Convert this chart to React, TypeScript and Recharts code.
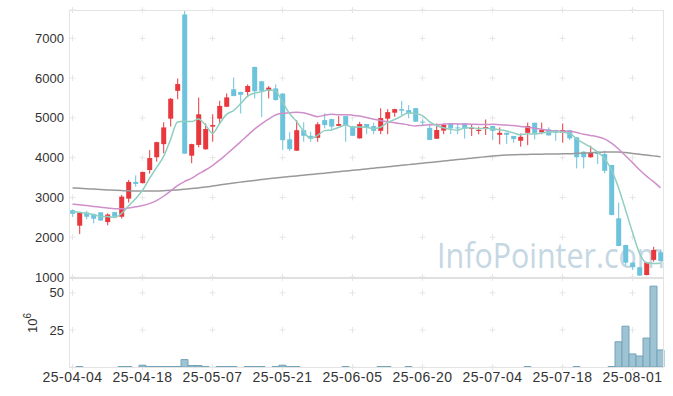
import React from 'react';
import { ComposedChart, BarChart, Bar, Line, XAxis, YAxis, CartesianGrid } from 'recharts';

// trading days (KRX), yy-mm-dd
const dates = [
    '25-04-04', '25-04-07', '25-04-08', '25-04-09', '25-04-10', '25-04-11', '25-04-14', '25-04-15', '25-04-16', '25-04-17',
    '25-04-18', '25-04-21', '25-04-22', '25-04-23', '25-04-24', '25-04-25', '25-04-28', '25-04-29', '25-04-30', '25-05-02',
    '25-05-07', '25-05-08', '25-05-09', '25-05-12', '25-05-13', '25-05-14', '25-05-15', '25-05-16', '25-05-19', '25-05-20',
    '25-05-21', '25-05-22', '25-05-23', '25-05-26', '25-05-27', '25-05-28', '25-05-29', '25-05-30', '25-06-02', '25-06-04',
    '25-06-05', '25-06-09', '25-06-10', '25-06-11', '25-06-12', '25-06-13', '25-06-16', '25-06-17', '25-06-18', '25-06-19',
    '25-06-20', '25-06-23', '25-06-24', '25-06-25', '25-06-26', '25-06-27', '25-06-30', '25-07-01', '25-07-02', '25-07-03',
    '25-07-04', '25-07-07', '25-07-08', '25-07-09', '25-07-10', '25-07-11', '25-07-14', '25-07-15', '25-07-16', '25-07-17',
    '25-07-18', '25-07-21', '25-07-22', '25-07-23', '25-07-24', '25-07-25', '25-07-28', '25-07-29', '25-07-30', '25-07-31',
    '25-08-01', '25-08-04', '25-08-05', '25-08-06', '25-08-07',
];

const open = [
    2680, 2290, 2620, 2580, 2625, 2380, 2630, 2515, 2970, 3390,
    3360, 3690, 4010, 4340, 4980, 5680, 7600, 4050, 4320, 4210,
    4780, 4980, 5280, 5720, 5650, 5650, 6280, 5920, 5690, 5740,
    5610, 4460, 4175, 4690, 4550, 4500, 4945, 4970, 4800, 5045,
    4790, 4485, 4845, 4795, 4675, 4980, 5130, 5220, 5195, 5245,
    4905, 4750, 4475, 4680, 4860, 4760, 4860, 4720, 4670, 4720,
    4795, 4575, 4625, 4545, 4425, 4625, 4877, 4635, 4710, 4695,
    4625, 4690, 4510, 4150, 4010, 4150, 4090, 3815, 2475, 1805,
    1360, 1245, 1050, 1430, 1620,
];
const high = [
    2700, 2630, 2665, 2590, 2630, 2600, 2640, 3060, 3440, 3555,
    3650, 4190, 4400, 4890, 5500, 5990, 7700, 4350, 5510, 4860,
    5090, 5430, 5615, 6015, 5660, 5840, 6290, 5930, 5800, 5840,
    5620, 4640, 4945, 4890, 4650, 4890, 5115, 4980, 5045, 5050,
    4800, 4900, 4850, 4880, 5240, 5220, 5230, 5430, 5320, 5250,
    4960, 4860, 4860, 4860, 4865, 4860, 4870, 4845, 4775, 4960,
    4800, 4760, 4630, 4550, 4610, 4880, 4880, 4880, 4760, 4700,
    4860, 4700, 4520, 4160, 4300, 4160, 4175, 3820, 2870, 1810,
    1365, 1250, 1380, 1760, 1695,
];
const low = [
    2510, 2080, 2450, 2350, 2410, 2300, 2510, 2470, 2870, 3270,
    3350, 3600, 3900, 4110, 4780, 5470, 4100, 3860, 4260, 4200,
    4400, 4860, 5270, 5540, 5110, 5520, 5490, 5020, 5490, 5430,
    4190, 4165, 4170, 4400, 4400, 4400, 4735, 4710, 4790, 4400,
    4540, 4480, 4590, 4590, 4590, 4590, 5030, 5070, 4990, 4900,
    4820, 4440, 4470, 4590, 4590, 4590, 4480, 4545, 4585, 4570,
    4440, 4335, 4340, 4375, 4275, 4315, 4460, 4590, 4555, 4425,
    4375, 4440, 3730, 3730, 4000, 3840, 3605, 2550, 1775, 1285,
    1175, 1030, 1040, 1385, 1400,
];
const close = [
    2590, 2620, 2515, 2465, 2420, 2570, 2515, 3020, 3390, 3340,
    3640, 3990, 4390, 4760, 5480, 5850, 4100, 4340, 5090, 4720,
    4820, 5300, 5515, 5550, 5580, 5800, 5670, 5680, 5760, 5450,
    4440, 4215, 4690, 4550, 4500, 4840, 4820, 4780, 4845, 4820,
    4550, 4845, 4760, 4675, 4995, 5145, 5220, 5180, 5110, 4905,
    4880, 4445, 4695, 4825, 4735, 4735, 4735, 4745, 4700, 4770,
    4675, 4625, 4575, 4470, 4525, 4795, 4610, 4695, 4560, 4625,
    4695, 4485, 4010, 4010, 4125, 4090, 3670, 2560, 1780, 1360,
    1245, 1035, 1370, 1680, 1400,
];

// moving averages
const ma5 = [
    2640, 2625, 2600, 2570, 2522, 2518, 2497, 2598, 2783, 2967,
    3181, 3476, 3750, 4024, 4452, 4894, 4916, 4906, 4972, 4820,
    4614, 4854, 5089, 5181, 5353, 5549, 5623, 5656, 5698, 5672,
    5400, 5109, 4911, 4669, 4479, 4559, 4680, 4698, 4757, 4821,
    4763, 4768, 4764, 4730, 4765, 4884, 4959, 5043, 5130, 5112,
    5059, 4904, 4807, 4750, 4716, 4687, 4745, 4755, 4730, 4737,
    4725, 4703, 4669, 4623, 4574, 4598, 4595, 4619, 4637, 4657,
    4637, 4612, 4475, 4365, 4265, 4144, 3981, 3691, 3245, 2692,
    2123, 1596, 1358, 1338, 1346,
];
const ma20 = [
    2835, 2815, 2795, 2775, 2755, 2735, 2718, 2715, 2735, 2765,
    2795, 2845, 2920, 3030, 3160, 3300, 3400, 3480, 3590, 3690,
    3802, 3936, 4086, 4240, 4398, 4560, 4717, 4850, 4969, 5074,
    5114, 5126, 5141, 5130, 5081, 5031, 5067, 5089, 5076, 5081,
    5068, 5045, 5007, 4964, 4934, 4902, 4879, 4854, 4822, 4794,
    4816, 4828, 4828, 4842, 4854, 4848, 4844, 4842, 4835, 4833,
    4839, 4828, 4819, 4808, 4785, 4767, 4737, 4713, 4685, 4671,
    4662, 4664, 4630, 4589, 4558, 4526, 4473, 4364, 4218, 4047,
    3876, 3696, 3536, 3396, 3240,
];
const ma60 = [
    3240, 3230, 3220, 3210, 3200, 3190, 3180, 3172, 3166, 3162,
    3160, 3160, 3162, 3168, 3178, 3190, 3205, 3222, 3240, 3260,
    3285, 3312, 3338, 3362, 3385, 3407, 3428, 3449, 3470, 3490,
    3508, 3525, 3542, 3559, 3576, 3593, 3610, 3628, 3645, 3663,
    3681, 3699, 3717, 3735, 3753, 3771, 3789, 3807, 3825, 3843,
    3861, 3879, 3897, 3915, 3933, 3951, 3969, 3987, 4005, 4023,
    4041, 4056, 4066, 4073, 4078, 4082, 4085, 4088, 4090, 4093,
    4096, 4100, 4108, 4116, 4124, 4132, 4140, 4145, 4143, 4128,
    4105, 4085, 4065, 4045, 4025,
];

// volume, millions of shares
const volume = [
    0, 0.3, 0, 0, 0, 0, 0, 0.3, 0.3, 0,
    1.2, 0.3, 0.3, 0.3, 0.3, 0.3, 5, 1.0, 1.0, 0.3,
    0, 0.3, 0.3, 0.3, 0, 0.3, 0.3, 0.3, 0, 0.3,
    1.2, 0.3, 0.3, 0, 0, 0, 0, 0, 0, 0.3,
    0, 0, 0, 0, 0.3, 0.3, 0, 0, 0.3, 0,
    0, 0, 0, 0, 0, 0, 0, 0, 0, 0,
    0, 0, 0, 0, 0, 0.3, 0, 0, 0, 0,
    0, 0, 0.3, 0, 0, 0, 0, 0.3, 17, 27.5,
    8.8, 7.4, 19.5, 54.5, 11.5,
];

const tickDates = ['25-04-04', '25-04-18', '25-05-07', '25-05-21', '25-06-05', '25-06-20', '25-07-04', '25-07-18', '25-08-01'];
const priceTicks = [1000, 2000, 3000, 4000, 5000, 6000, 7000];
const volumeTicks = [25, 50];

const rows = dates.map((date, i) => ({
    date,
    open: open[i],
    high: high[i],
    low: low[i],
    close: close[i],
    ma5: ma5[i],
    ma20: ma20[i],
    ma60: ma60[i],
    volume: volume[i],
}));

const UP = '#e8383d';
const DOWN = '#6cc3db';
const GRID = '#e6e6e6';
const FRAME = '#e4e4e4';
const yTickStyle = { fill: '#333', fontSize: 13 };
const xTickStyle = { fill: '#333', fontSize: 14, letterSpacing: 0.5 };
const tickIdx = tickDates.map((d) => dates.indexOf(d));

// candlestick drawn from the [low, high] range bar
const Candle = (props: any) => {
    const { x, y, width, height, payload } = props;
    if (x == null || y == null) return null;
    const top = Math.min(y, y + height);
    const h = Math.abs(height);
    const span = payload.high - payload.low;
    const toY = (v: number) => (span === 0 ? top : top + ((payload.high - v) / span) * h);
    const cx = x + width / 2;
    const color = payload.close >= payload.open ? UP : DOWN;
    const yo = toY(payload.open);
    const yc = toY(payload.close);
    return (
        <g>
            <line x1={cx} x2={cx} y1={top} y2={top + h} stroke={color} strokeWidth={1} />
            <rect x={cx - 2.5} y={Math.min(yo, yc)} width={5} height={Math.max(Math.abs(yo - yc), 1)} fill={color} />
        </g>
    );
};

// small "+" marks at the grid crossings instead of full lines
const crossRow = (p: any) => {
    const band = (p.x2 - p.x1) / dates.length;
    return (
        <g key={`row-${p.index}`}>
            {tickIdx.map((k) => {
                const cx = p.x1 + band * (k + 0.5);
                return (
                    <g key={k}>
                        <line x1={cx - 3} x2={cx + 3} y1={p.y1} y2={p.y1} stroke={GRID} />
                        <line x1={cx} x2={cx} y1={p.y1 - 3} y2={p.y1 + 3} stroke={GRID} />
                    </g>
                );
            })}
        </g>
    );
};

const App: React.FC = () => {
    return (
        <div
            style={{
                position: 'absolute',
                left: 0,
                top: 0,
                width: 673,
                height: 396,
                background: '#fff',
                fontFamily: '"Liberation Sans", Arial, sans-serif',
                overflow: 'hidden',
            }}
        >
            {/* watermark sits behind the chart */}
            <svg width={673} height={396} style={{ position: 'absolute', left: 0, top: 0 }}>
                <text
                    x={437}
                    y={268}
                    fontSize={35}
                    fill="#c4d7e3"
                    textLength={228}
                    lengthAdjust="spacingAndGlyphs"
                    fontFamily='"Open Sans", sans-serif'
                >
                    InfoPointer.com
                </text>
            </svg>

            <div style={{ position: 'absolute', left: 0, top: 0 }}>
                <ComposedChart width={673} height={292} data={rows} margin={{ top: 10, right: 9, bottom: 15, left: 0 }}>
                    <CartesianGrid horizontal={crossRow} vertical={false} />
                    <XAxis dataKey="date" hide />
                    <YAxis
                        type="number"
                        domain={[1000, 7712]}
                        ticks={priceTicks}
                        interval={0}
                        allowDataOverflow
                        width={69}
                        axisLine={false}
                        tickLine={false}
                        tickSize={0}
                        tickMargin={5}
                        tick={yTickStyle}
                    />
                    <Bar dataKey={(d: any) => [d.low, d.high]} shape={<Candle />} isAnimationActive={false} />
                    <Line type="monotone" dataKey="ma60" stroke="#999999" strokeWidth={1.5} dot={false} isAnimationActive={false} />
                    <Line type="monotone" dataKey="ma20" stroke="#cf8fcb" strokeWidth={1.5} dot={false} isAnimationActive={false} />
                    <Line type="monotone" dataKey="ma5" stroke="#8fcfc2" strokeWidth={1.5} dot={false} isAnimationActive={false} />
                </ComposedChart>
            </div>

            <div style={{ position: 'absolute', left: 0, top: 277 }}>
                <BarChart width={673} height={119} data={rows} barCategoryGap={0} barGap={0} margin={{ top: 1, right: 9, bottom: 0, left: 0 }}>
                    <CartesianGrid horizontal={crossRow} vertical={false} />
                    <XAxis
                        dataKey="date"
                        ticks={tickDates}
                        interval={0}
                        height={29}
                        axisLine={false}
                        tickLine={false}
                        tickSize={0}
                        tickMargin={5}
                        tick={xTickStyle}
                    />
                    <YAxis
                        type="number"
                        domain={[0, 60]}
                        ticks={volumeTicks}
                        interval={0}
                        width={69}
                        axisLine={false}
                        tickLine={false}
                        tickSize={0}
                        tickMargin={5}
                        tick={yTickStyle}
                    />
                    <Bar dataKey="volume" fill="#9ec3d3" stroke="#73a3b9" strokeWidth={1} isAnimationActive={false} />
                </BarChart>
            </div>

            {/* panel frames */}
            <div style={{ position: 'absolute', left: 69, top: 10, width: 595, height: 267, boxSizing: 'border-box', border: `1px solid ${FRAME}`, borderBottom: 'none' }} />
            <div style={{ position: 'absolute', left: 69, top: 277, width: 595, height: 2, background: '#e0e0e0' }} />
            <div style={{ position: 'absolute', left: 69, top: 279, width: 595, height: 89, boxSizing: 'border-box', borderLeft: `1px solid ${FRAME}`, borderRight: `1px solid ${FRAME}`, borderBottom: `1px solid ${FRAME}` }} />

            {/* unit label of the volume axis */}
            <svg width={60} height={396} style={{ position: 'absolute', left: 0, top: 0 }}>
                <text transform="translate(37, 333) rotate(-90)" fontSize={13} fill="#333">
                    10
                    <tspan dy={-6} fontSize={10}>6</tspan>
                </text>
            </svg>
        </div>
    );
};

export default App;
